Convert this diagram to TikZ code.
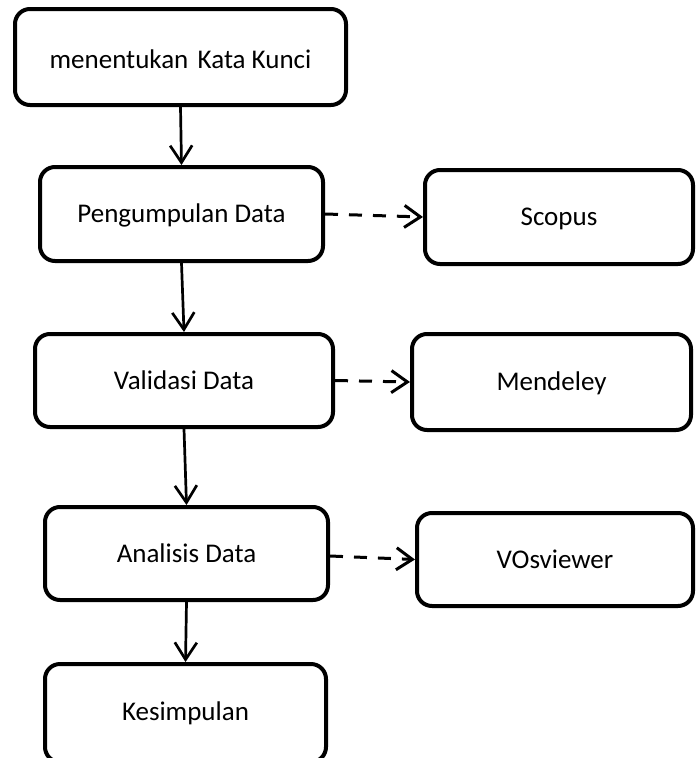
\documentclass[tikz,border=0pt]{standalone}
\usepackage{fontspec}
\setmainfont{Carlito}
\usetikzlibrary{arrows.meta}
\begin{document}
\begin{tikzpicture}[x=1pt,y=-1pt,
  box/.style={draw=black, line width=4pt, rounded corners=15pt, fill=white,
    inner sep=0pt, text height=17.4pt, text depth=0pt,
    font=\fontsize{27}{32}\selectfont},
  flow/.style={line width=2.7pt, -{Straight Barb[length=17pt,width=22pt,line width=2.7pt]}},
  link/.style={line width=3pt, dash pattern=on 13pt off 11pt,
    -{Straight Barb[length=16pt,width=22pt,line width=3pt]}}]
\useasboundingbox (0,0) rectangle (696,758);
\clip (0,0) rectangle (696,758);
\node[box, minimum width=331pt, minimum height=96pt, text height=23.4pt] (k1) at (180.5,57) {menentukan\hspace{0.12em} Kata Kunci};
\node[box, minimum width=283pt, minimum height=94pt] (k2) at (181.5,214) {Pengumpulan Data};
\node[box, minimum width=298pt, minimum height=93pt] (k3) at (184,380.5) {Validasi Data};
\node[box, minimum width=283pt, minimum height=93pt] (k4) at (186.5,553.5) {Analisis Data};
\node[box, minimum width=281pt, minimum height=98pt, text height=15.4pt] (k5) at (185.5,713) {Kesimpulan};
\node[box, minimum width=268pt, minimum height=94pt] (s) at (559,217) {Scopus};
\node[box, minimum width=279pt, minimum height=96pt] (m) at (551.5,382) {Mendeley};
\node[box, minimum width=276pt, minimum height=93pt] (v) at (555,559.5) {VOsviewer};
\draw[flow] (k1.south) -- (k2.north);
\draw[flow] (k2.south) -- (k3.north);
\draw[flow] (k3.south) -- (k4.north);
\draw[flow] (k4.south) -- (k5.north);
\draw[link] (k2.east) -- (s.west);
\draw[link] (k3.east) -- (m.west);
\draw[link] ([yshift=-2.5pt]k4.east) -- (v.west);
\end{tikzpicture}
\end{document}
